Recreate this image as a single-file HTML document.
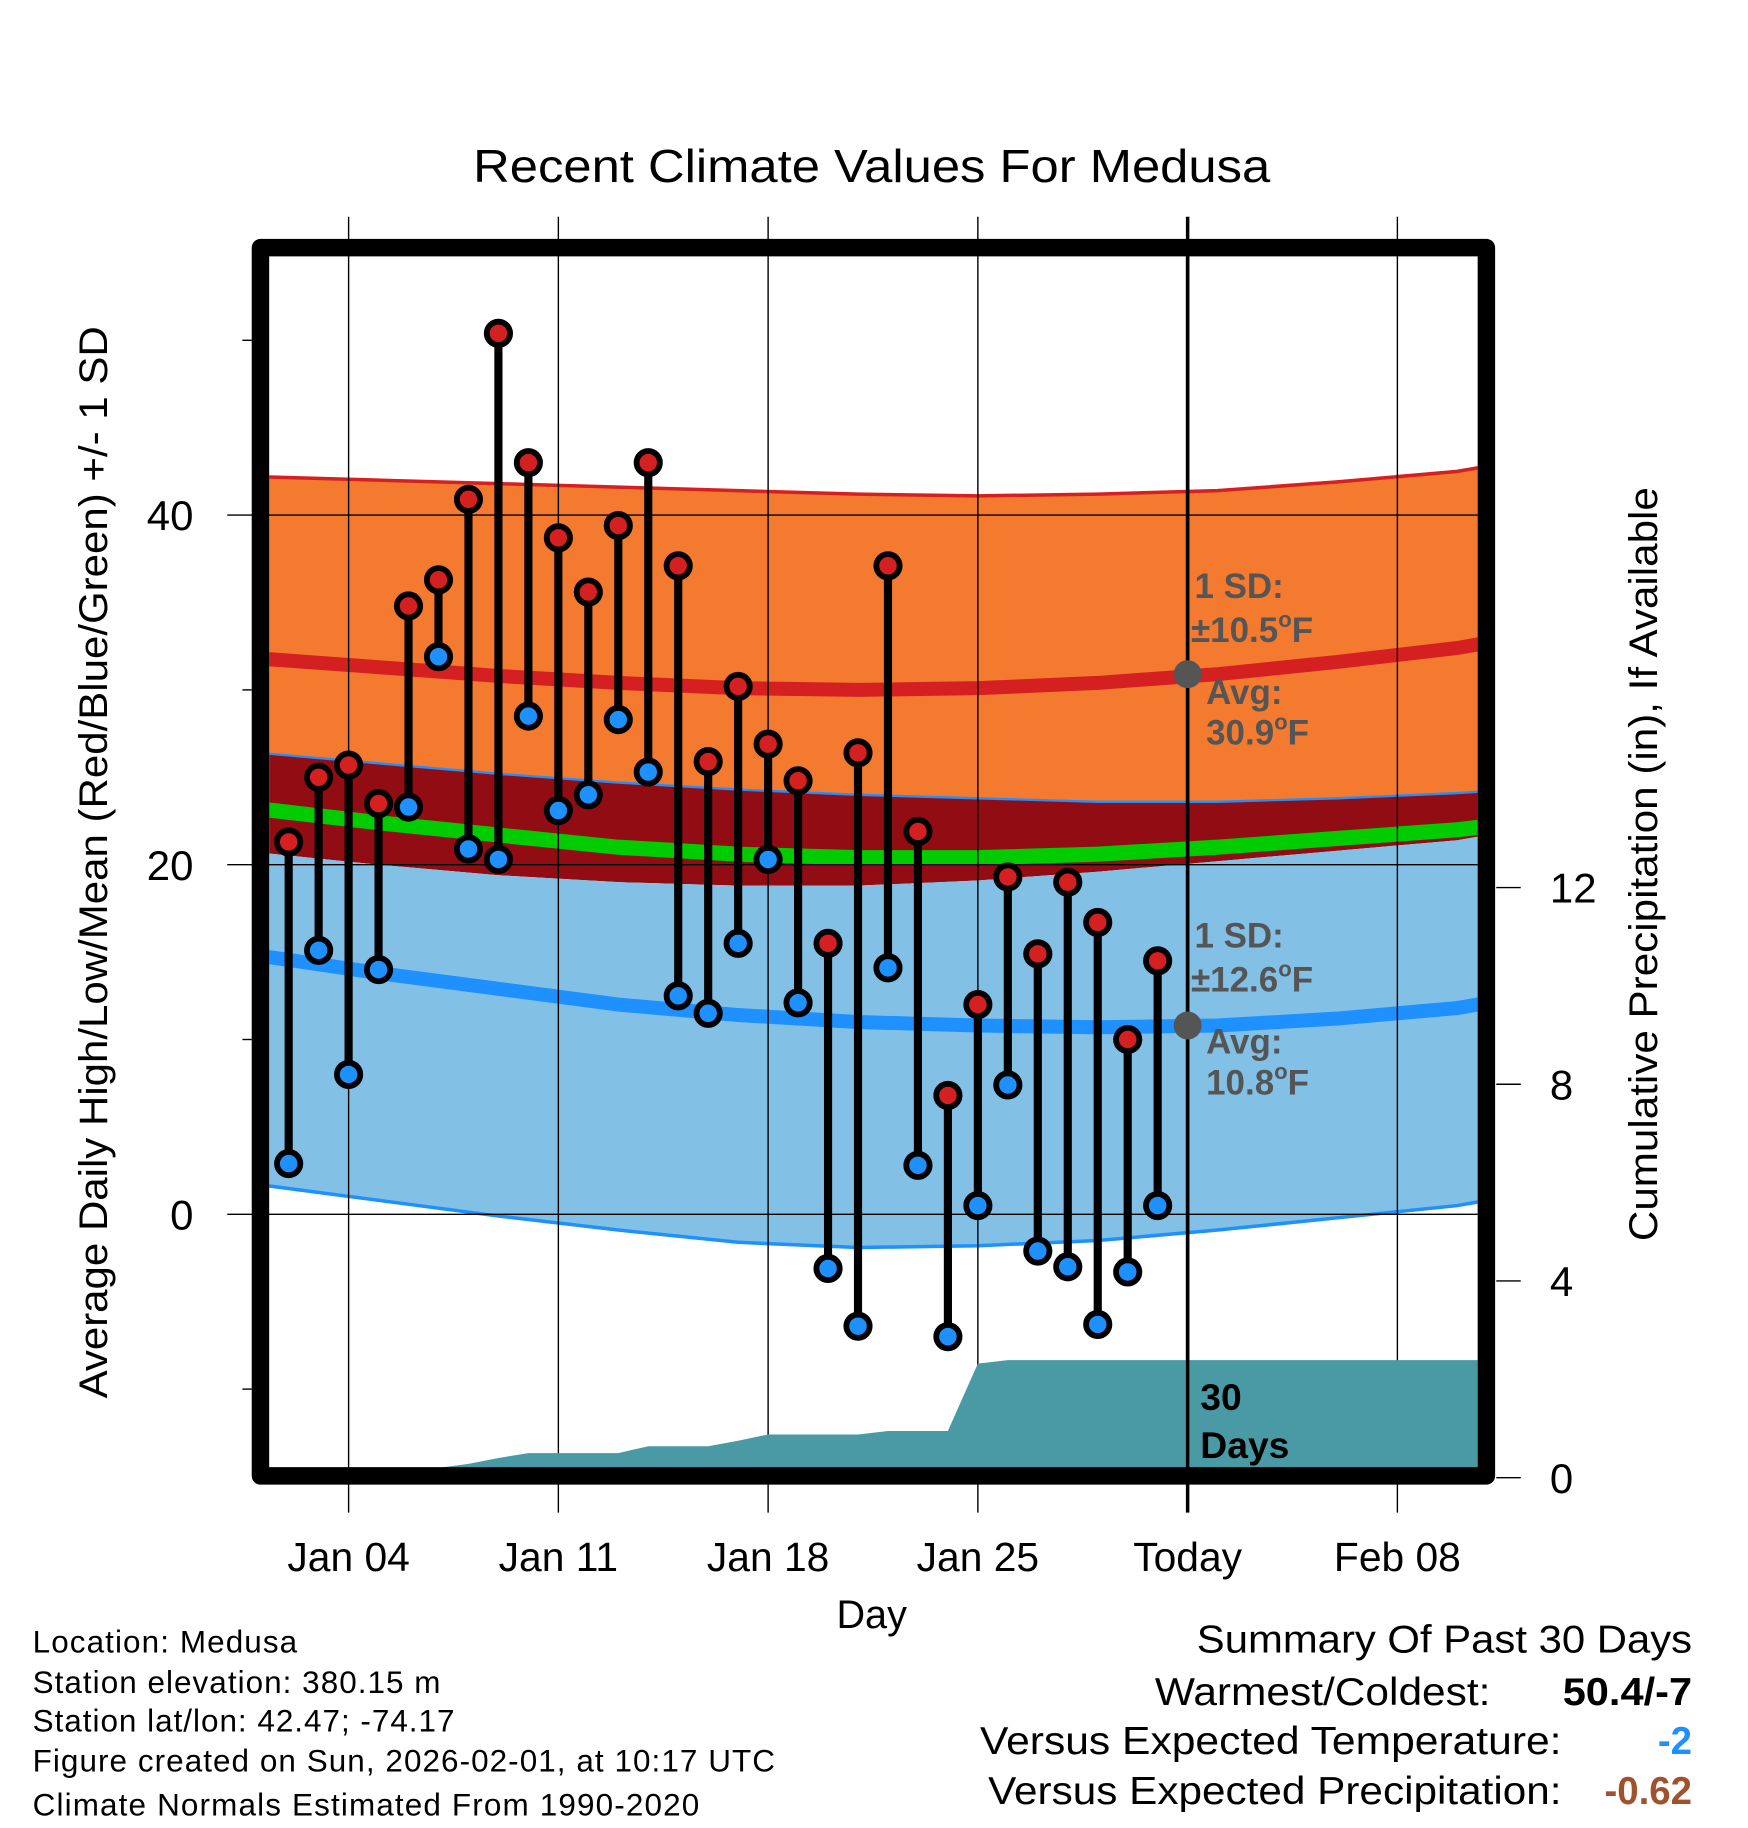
<!DOCTYPE html>
<html><head><meta charset="utf-8"><style>
html,body{margin:0;padding:0;background:#fff}
svg{display:block}
text{font-family:"Liberation Sans",Arial,sans-serif}
</style></head><body>
<svg id="chart" width="1748" height="1828" viewBox="0 0 1500 1568.6" xmlns="http://www.w3.org/2000/svg">
<text x="406" y="156" font-size="40" textLength="684" lengthAdjust="spacingAndGlyphs">Recent Climate Values For Medusa</text>
<g id="bands"></g>
<g id="grid"></g>
<g id="precip"></g>
<g id="marks"></g>
<g id="annot">
<g font-weight="bold" fill="#555" font-size="30">
<text x="1025" y="513">1 SD:</text>
<text x="1022" y="551">±10.5<tspan font-size="19" dy="-13">o</tspan><tspan dy="13">F</tspan></text>
<text x="1035" y="604">Avg:</text>
<text x="1035" y="639">30.9<tspan font-size="19" dy="-13">o</tspan><tspan dy="13">F</tspan></text>
</g>
<g font-weight="bold" fill="#555" font-size="30">
<text x="1025" y="813">1 SD:</text>
<text x="1022" y="851">±12.6<tspan font-size="19" dy="-13">o</tspan><tspan dy="13">F</tspan></text>
<text x="1035" y="904">Avg:</text>
<text x="1035" y="939">10.8<tspan font-size="19" dy="-13">o</tspan><tspan dy="13">F</tspan></text>
</g>
<text x="1030" y="1210" font-size="32" font-weight="bold">30</text>
<text x="1030" y="1251" font-size="32" font-weight="bold">Days</text>
</g>
<rect x="223.5" y="212.5" width="1052" height="1054" fill="none" stroke="#000" stroke-width="15" stroke-linejoin="round"/>
<g id="axes"></g>
<text x="748" y="1397" font-size="34" text-anchor="middle">Day</text>
<text transform="translate(92,1200) rotate(-90)" font-size="34" textLength="920" lengthAdjust="spacingAndGlyphs">Average Daily High/Low/Mean (Red/Blue/Green) +/- 1 SD</text>
<text transform="translate(1422,1065) rotate(-90)" font-size="34" textLength="647" lengthAdjust="spacingAndGlyphs">Cumulative Precipitation (in), If Available</text>
<g font-size="27" lengthAdjust="spacingAndGlyphs">
<text x="28" y="1418" textLength="227">Location: Medusa</text>
<text x="28" y="1453" textLength="350">Station elevation: 380.15 m</text>
<text x="28" y="1486" textLength="362">Station lat/lon: 42.47; -74.17</text>
<text x="28" y="1520" textLength="637">Figure created on Sun, 2026-02-01, at 10:17 UTC</text>
<text x="28" y="1558" textLength="572">Climate Normals Estimated From 1990-2020</text>
</g>
<g font-size="33">
<text x="1027" y="1418" textLength="425" lengthAdjust="spacingAndGlyphs">Summary Of Past 30 Days</text>
<text x="991" y="1463" textLength="288" lengthAdjust="spacingAndGlyphs">Warmest/Coldest:</text>
<text x="1341" y="1463" font-weight="bold" textLength="111" lengthAdjust="spacingAndGlyphs">50.4/-7</text>
<text x="841" y="1505" textLength="499" lengthAdjust="spacingAndGlyphs">Versus Expected Temperature:</text>
<text x="1452" y="1505" font-weight="bold" fill="#1e90ff" text-anchor="end">-2</text>
<text x="848" y="1548" textLength="492" lengthAdjust="spacingAndGlyphs">Versus Expected Precipitation:</text>
<text x="1452" y="1548" font-weight="bold" fill="#a0522d" text-anchor="end">-0.62</text>
</g>
</svg>
<script>
const highs=[21.3,25,25.7,23.5,34.8,36.3,40.9,50.4,43,38.7,35.6,39.4,43,37.1,25.9,30.2,26.9,24.8,15.5,26.4,37.1,21.9,6.8,12,19.3,14.9,19,16.7,10,14.5];
const lows=[2.9,15.1,8,14,23.3,31.9,20.9,20.3,28.5,23.1,24,28.3,25.3,12.5,11.5,15.5,20.3,12.1,-3.1,-6.4,14.1,2.8,-7,0.5,7.4,-2.1,-3,-6.3,-3.3,0.5];
const firstDay=2;
const normDays=[1,5,9,13,17,21,25,29,33,37,41,42];
const highUpper=[42.2,42.0,41.8,41.6,41.4,41.2,41.1,41.2,41.4,41.9,42.5,42.8];
const avgHigh=[31.8,31.3,30.8,30.4,30.1,30.0,30.1,30.4,30.9,31.6,32.4,32.7];
const highLower=[26.4,25.8,25.2,24.7,24.3,24.0,23.8,23.6,23.6,23.8,24.1,24.2];
const avgMean=[23.2,22.4,21.7,21.0,20.6,20.4,20.4,20.6,21.0,21.5,22.0,22.2];
const lowUpper=[20.7,20.0,19.4,19.0,18.8,18.8,19.1,19.6,20.2,20.8,21.4,21.7];
const avgLow=[14.8,13.8,12.9,12.0,11.4,11.0,10.8,10.7,10.8,11.2,11.8,12.1];
const lowLower=[1.7,0.8,-0.1,-0.9,-1.6,-1.9,-1.8,-1.5,-0.9,-0.2,0.5,0.8];
const precipDays=[1,6,7,8,9,10,13,14,16,17,18,21,22,24,25,26,42];
const precipCum=[0,0,0.2,0.28,0.4,0.5,0.5,0.64,0.64,0.75,0.88,0.88,0.95,0.95,2.32,2.39,2.39];
const yTicks=[0,20,40];
const yMinor=[-10,10,30,50];
const y2Ticks=[0,4,8,12];
const xTickDays=[4,11,18,25,32,39];
const xTickLabels=["Jan 04","Jan 11","Jan 18","Jan 25","Today","Feb 08"];
const todayDay=32;

const NS="http://www.w3.org/2000/svg";
const X=d=>222+(d-1)*25.714;
const Y=t=>1042-15*t;
const Y2=p=>1268-42.2*p;
function mk(tag,attrs,parent){const e=document.createElementNS(NS,tag);for(const k in attrs)e.setAttribute(k,attrs[k]);parent.appendChild(e);return e;}
const L=231,R=1268,T=220,B=1260;
const defs=mk('defs',{},document.getElementById('chart'));
const cp=mk('clipPath',{id:'pc'},defs);mk('rect',{x:L,y:T,width:R-L,height:B-T},cp);

function pts(arr){return normDays.map((d,i)=>X(d).toFixed(1)+','+Y(arr[i]).toFixed(1));}
function band(up,lo,fill,name){
  const p=pts(up).concat(pts(lo).reverse()).join(' ');
  const e=mk('polygon',{points:p,fill:fill,'clip-path':'url(#pc)'},bands);
  
  
}
function line(arr,color,w,name){
  const e=mk('polyline',{points:pts(arr).join(' '),fill:'none',stroke:color,'stroke-width':w,'clip-path':'url(#pc)'},bands);
  
  
}
const bands=document.getElementById('bands');
band(highUpper,highLower,'#f47a30','high-sd-band');
band(highLower,lowUpper,'#920d13','overlap-band');
band(lowUpper,lowLower,'#82c0e6','low-sd-band');
line(highUpper,'#d42020',3,'high-upper-line');
line(avgHigh,'#d42020',12,'avg-high-line');
line(highLower,'#1e90ff',2,'high-lower-line');
line(avgMean,'#00cc00',13,'avg-mean-line');
line(avgLow,'#1e90ff',12,'avg-low-line');
line(lowLower,'#1e90ff',3,'low-lower-line');

const grid=document.getElementById('grid');
xTickDays.forEach((d,i)=>{
  const g=mk('line',{x1:X(d),x2:X(d),y1:186,y2:1298,stroke:'#000','stroke-width':d===todayDay?3:1.2},grid);
  
  
  const t=mk('text',{x:X(d),y:1348,'font-size':35,'text-anchor':'middle'},grid);
  t.textContent=xTickLabels[i];
  
  
});
yTicks.forEach(v=>{
  const g=mk('line',{x1:195,x2:R,y1:Y(v),y2:Y(v),stroke:'#000','stroke-width':1.2},grid);
  
  
  const t=mk('text',{x:166,y:Y(v)+13,'font-size':36,'text-anchor':'end'},grid);
  t.textContent=v;
  
  
});
yMinor.forEach(v=>{
  const g=mk('line',{x1:208,x2:216,y1:Y(v),y2:Y(v),stroke:'#000','stroke-width':1.2},grid);
  
  
});
y2Ticks.forEach(v=>{
  const g=mk('line',{x1:1284,x2:1305,y1:Y2(v),y2:Y2(v),stroke:'#000','stroke-width':1.2},grid);
  
  
  const t=mk('text',{x:1330,y:Y2(v)+13,'font-size':36},grid);
  t.textContent=v;
  
  
});

const precip=document.getElementById('precip');
let pp=[X(precipDays[0])+','+Y2(0)];
precipDays.forEach((d,i)=>pp.push(X(d).toFixed(1)+','+Y2(precipCum[i]).toFixed(1)));
pp.push(X(precipDays[precipDays.length-1])+','+Y2(0));
const pe=mk('polygon',{points:pp.join(' '),fill:'#4a9aa5','clip-path':'url(#pc)'},precip);


const tl=mk('line',{x1:X(todayDay),x2:X(todayDay),y1:T,y2:B,stroke:'#000','stroke-width':3},precip);



const gray1=mk('circle',{cx:X(todayDay),cy:Y(avgHigh[8]),r:12,fill:'#555'},precip);


const gray2=mk('circle',{cx:X(todayDay),cy:Y(avgLow[8]),r:12,fill:'#555'},precip);



const marks=document.getElementById('marks');
highs.forEach((h,i)=>{
  const x=X(firstDay+i);
  const s=mk('line',{x1:x,x2:x,y1:Y(h),y2:Y(lows[i]),stroke:'#000','stroke-width':7},marks);
  
  
});
highs.forEach((h,i)=>{
  const x=X(firstDay+i);
  const a=mk('circle',{cx:x,cy:Y(h),r:10,fill:'#d42020',stroke:'#000','stroke-width':5},marks);
  
  
  const b=mk('circle',{cx:x,cy:Y(lows[i]),r:10,fill:'#1e90ff',stroke:'#000','stroke-width':5},marks);
  
  
});
</script>
</body></html>
